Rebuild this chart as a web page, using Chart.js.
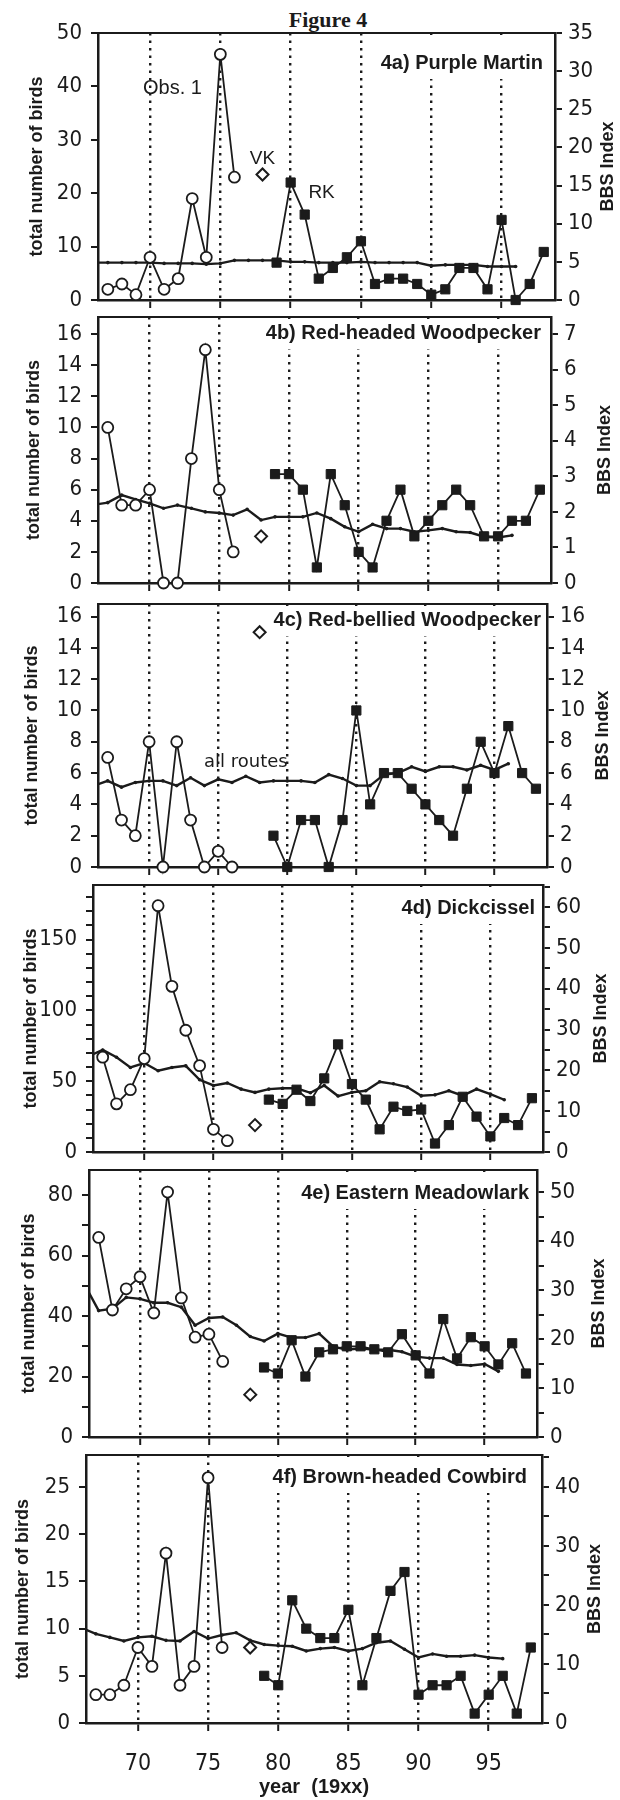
<!DOCTYPE html>
<html>
<head>
<meta charset="utf-8">
<script src="https://cdn.jsdelivr.net/npm/chart.js@4.4.1/dist/chart.umd.min.js"></script>
<style>
  html, body { margin: 0; padding: 0; background: #fff; }
  body { width: 620px; height: 1800px; position: relative; overflow: hidden; }
  #fig { position: absolute; left: 228px; top: 7px; width: 200px; text-align: center;
         font: bold 22px "Liberation Serif", "Times New Roman", serif; color: #1b1b1b; }
  .panel { position: absolute; left: 0; width: 620px; }
  .panel canvas { display: block; }
</style>
</head>
<body>
<div id="fig">Figure 4</div>
<script>
// ── Years ────────────────────────────────────────────────
const obsYears = [67, 68, 69, 70, 71, 72, 73, 74, 75, 76];
const rkYears  = [79, 80, 81, 82, 83, 84, 85, 86, 87, 88, 89, 90, 91, 92, 93, 94, 95, 96, 97, 98];
const bbsYears = [66, 67, 68, 69, 70, 71, 72, 73, 74, 75, 76, 77, 78, 79, 80, 81,
                  82, 83, 84, 85, 86, 87, 88, 89, 90, 91, 92, 93, 94, 95, 96];
const vkYear = [78];

// ── 4a Purple Martin ─────────────────────────────────────
const martinObs = [2, 3, 1, 8, 2, 4, 19, 8, 46, 23];
const martinVK  = [23.5];
const martinRK  = [7, 22, 16, 4, 6, 8, 11, 3, 4, 4, 3, 1, 2, 6, 6, 2, 15, 0, 3, 9];
const martinBBS = [4.9, 4.9, 4.9, 4.9, 4.9, 4.8, 4.8, 4.8, 4.7, 4.8, 5.2, 5.2, 5.2, 5.2, 5.0, 5.0,
                   4.9, 4.9, 4.9, 5.0, 4.9, 4.9, 4.9, 4.9, 4.5, 4.6, 4.6, 4.6, 4.4, 4.4, 4.4];

// ── 4b Red-headed Woodpecker ─────────────────────────────
const rhwoObs = [10, 5, 5, 6, 0, 0, 8, 15, 6, 2];
const rhwoVK  = [3];
const rhwoRK  = [7, 7, 6, 1, 7, 5, 2, 1, 4, 6, 3, 4, 5, 6, 5, 3, 3, 4, 4, 6];
const rhwoBBS = [2.2, 2.26, 2.47, 2.35, 2.24, 2.10, 2.19, 2.10, 2.00, 1.97, 1.91, 2.07, 1.77, 1.86, 1.86, 1.86,
                 1.97, 1.81, 1.58, 1.44, 1.65, 1.53, 1.53, 1.44, 1.48, 1.53, 1.44, 1.42, 1.30, 1.28, 1.34];

// ── 4c Red-bellied Woodpecker ────────────────────────────
const rbwoObs = [7, 3, 2, 8, 0, 8, 3, 0, 1, 0];
const rbwoVK  = [15];
const rbwoRK  = [2, 0, 3, 3, 0, 3, 10, 4, 6, 6, 5, 4, 3, 2, 5, 8, 6, 9, 6, 5];
const rbwoBBS = [5.2, 5.5, 5.1, 5.4, 5.5, 5.5, 5.2, 5.7, 5.2, 5.6, 5.4, 5.8, 5.4, 5.5, 5.5, 5.5,
                 5.4, 5.9, 5.65, 5.2, 5.2, 5.9, 6.0, 6.4, 6.1, 6.4, 6.4, 6.2, 6.5, 6.2, 6.6];

// ── 4d Dickcissel ────────────────────────────────────────
const dickObs = [67, 34, 44, 66, 174, 117, 86, 61, 16, 8];
const dickVK  = [19];
const dickRK  = [37, 34, 44, 36, 52, 76, 48, 37, 16, 32, 29, 30, 6, 19, 39, 25, 11, 24, 19, 38];
const dickBBS = [23.5, 25.0, 23.2, 20.7, 21.8, 19.9, 20.7, 21.1, 17.7, 16.3, 16.9, 15.4, 14.6, 15.4, 15.6, 15.6,
                 14.5, 16.3, 13.7, 14.6, 15.0, 17.2, 16.7, 15.9, 13.8, 14.0, 15.0, 13.8, 15.4, 14.2, 12.8];

// ── 4e Eastern Meadowlark ────────────────────────────────
const emeaObs = [66, 42, 49, 53, 41, 81, 46, 33, 34, 25];
const emeaVK  = [14];
const emeaRK  = [23, 21, 32, 20, 28, 29, 30, 30, 29, 28, 34, 27, 21, 39, 26, 33, 30, 24, 31, 21];
const emeaBBS = [31.0, 25.8, 26.2, 28.5, 28.2, 27.4, 27.4, 26.5, 22.8, 24.3, 24.5, 22.8, 20.5, 19.6, 21.1, 20.3,
                 20.3, 21.1, 18.5, 17.8, 18.1, 17.8, 17.8, 17.4, 16.4, 16.1, 16.1, 14.8, 14.6, 14.9, 13.4];

// ── 4f Brown-headed Cowbird ──────────────────────────────
const bhcoObs = [3, 3, 4, 8, 6, 18, 4, 6, 26, 8];
const bhcoVK  = [8];
const bhcoRK  = [5, 4, 13, 10, 9, 9, 12, 4, 9, 14, 16, 3, 4, 4, 5, 1, 3, 5, 1, 8];
const bhcoBBS = [16.1, 15.1, 14.5, 13.9, 14.5, 14.7, 14.0, 13.9, 15.5, 14.3, 14.9, 15.3, 14.0, 13.3, 13.1, 13.0,
                 12.2, 12.6, 12.8, 12.2, 12.6, 13.6, 13.9, 12.5, 11.1, 11.7, 11.3, 11.3, 11.5, 11.1, 10.9];

// ── Styling ──────────────────────────────────────────────
const ink = '#1b1b1b';
const NARROW = '"Liberation Sans Narrow", "Arial Narrow", "DejaVu Sans Condensed", "Liberation Sans", sans-serif';
const SANS = '"Liberation Sans", Arial, sans-serif';
const X_MIN = 66.3, X_MAX = 98.8;

const panels = [
  { label: '4a) Purple Martin', obs: martinObs, vk: martinVK, rk: martinRK, bbs: martinBBS,
    T: 33, B: 300, L: 98, R: 555, yMax: 50, yStep: 10, yLab: 10, y2Max: 35, y2Step: 5, y2Lab: 5,
    labelGap: 12, labelDy: 30, lt: 37, rt: 608,
    notes: [
      { text: 'Obs. 1', x: 71.6, y: 39.7, font: '20px ' + SANS },
      { text: 'VK', x: 78.0, y: 26.4, font: '19px ' + SANS },
      { text: 'RK', x: 82.2, y: 20.0, font: '19px ' + SANS },
    ] },
  { label: '4b) Red-headed Woodpecker', obs: rhwoObs, vk: rhwoVK, rk: rhwoRK, bbs: rhwoBBS,
    T: 317, B: 583, L: 98, R: 551, yMax: 17.1, yStep: 2, yLab: 2, y2Max: 7.48, y2Step: 1, y2Lab: 1,
    labelGap: 10, labelDy: 16, lt: 34, rt: 605, notes: [] },
  { label: '4c) Red-bellied Woodpecker', obs: rbwoObs, vk: rbwoVK, rk: rbwoRK, bbs: rbwoBBS,
    T: 604, B: 867, L: 98, R: 547, yMax: 16.8, yStep: 2, yLab: 2, y2Max: 16.8, y2Step: 2, y2Lab: 2,
    labelGap: 6, labelDy: 16, lt: 32, rt: 603,
    notes: [ { text: 'all routes', x: 77.0, y: 6.7, font: '18px "DejaVu Sans", sans-serif' } ] },
  { label: '4d) Dickcissel', obs: dickObs, vk: dickVK, rk: dickRK, bbs: dickBBS,
    T: 885, B: 1152, L: 93, R: 543, yMax: 188.6, yStep: 10, yLab: 50, y2Max: 65.4, y2Step: 5, y2Lab: 10,
    labelGap: 8, labelDy: 23, lt: 31, rt: 601, notes: [] },
  { label: '4e) Eastern Meadowlark', obs: emeaObs, vk: emeaVK, rk: emeaRK, bbs: emeaBBS,
    T: 1170, B: 1437, L: 89, R: 537, yMax: 88.3, yStep: 10, yLab: 20, y2Max: 54.5, y2Step: 5, y2Lab: 10,
    labelGap: 8, labelDy: 23, lt: 29, rt: 599, notes: [] },
  { label: '4f) Brown-headed Cowbird', obs: bhcoObs, vk: bhcoVK, rk: bhcoRK, bbs: bhcoBBS,
    T: 1455, B: 1723, L: 86, R: 542, yMax: 28.4, yStep: 5, yLab: 5, y2Max: 45.4, y2Step: 5, y2Lab: 10,
    labelGap: 15, labelDy: 22, lt: 23, rt: 595, notes: [] },
];

// frame top line, panel label, notes and rotated axis titles
const decoPlugin = {
  id: 'deco',
  beforeDatasetsDraw(chart, args, o) {
    const { ctx, chartArea: a } = chart;
    ctx.save();
    ctx.font = 'bold 20px ' + SANS;
    ctx.textAlign = 'right';
    ctx.textBaseline = 'middle';
    const w = ctx.measureText(o.label).width;
    const x = a.right - o.labelGap, y = a.top + o.labelDy;
    ctx.fillStyle = '#fff';
    ctx.fillRect(x - w - 5, a.top + 2, w + 10, o.labelDy + 14);
    ctx.fillStyle = ink;
    ctx.fillText(o.label, x, y);
    ctx.restore();
  },
  afterDraw(chart, args, o) {
    const { ctx, chartArea: a, scales } = chart;
    ctx.save();
    ctx.strokeStyle = ink;
    ctx.lineWidth = 2;
    ctx.beginPath();
    ctx.moveTo(a.left, a.top);
    ctx.lineTo(a.right, a.top);
    ctx.stroke();

    ctx.fillStyle = ink;
    ctx.textAlign = 'center';
    ctx.textBaseline = 'middle';
    o.notes.forEach(n => {
      ctx.font = n.font;
      ctx.fillText(n.text, scales.x.getPixelForValue(n.x), scales.y.getPixelForValue(n.y));
    });

    const cy = (a.top + a.bottom) / 2;
    ctx.font = 'bold 18px ' + SANS;
    [[o.lt, 'total number of birds'], [o.rt, 'BBS Index']].forEach(([tx, t]) => {
      ctx.save();
      ctx.translate(tx, cy);
      ctx.rotate(-Math.PI / 2);
      ctx.fillText(t, 0, 0);
      ctx.restore();
    });
    ctx.restore();
  }
};

const pts = (xs, ys) => xs.map((x, i) => ({ x, y: ys[i] }));

function buildDatasets(p) {
  return [
    {
      label: 'Obs. 1', data: pts(obsYears, p.obs), yAxisID: 'y', order: 1, clip: false,
      borderColor: ink, borderWidth: 1.8, tension: 0,
      pointStyle: 'circle', pointRadius: 5.5, pointBackgroundColor: '#fff',
      pointBorderColor: ink, pointBorderWidth: 1.8,
    },
    {
      label: 'VK', data: pts(vkYear, p.vk), yAxisID: 'y', order: 1, clip: false, showLine: false,
      pointStyle: 'rectRot', pointRadius: 6, pointBackgroundColor: '#fff',
      pointBorderColor: ink, pointBorderWidth: 2,
    },
    {
      label: 'RK', data: pts(rkYears, p.rk), yAxisID: 'y', order: 1, clip: false,
      borderColor: ink, borderWidth: 1.8, tension: 0,
      pointStyle: 'rect', pointRadius: 6.5, pointBackgroundColor: ink,
      pointBorderColor: ink, pointBorderWidth: 1,
    },
    {
      // BBS survey starts in 1966; the line is cut at the left frame
      label: 'BBS Index', data: pts(bbsYears, p.bbs), yAxisID: 'y2', order: 2,
      borderColor: ink, borderWidth: 2.4, tension: 0,
      pointStyle: 'circle', pointRadius: 1.8, pointBackgroundColor: ink, pointBorderWidth: 0,
    },
  ];
}

panels.forEach((p, i) => {
  const last = i === panels.length - 1;
  const padTop = 26, padBot = last ? 77 : 26;
  const h = p.B - p.T + padTop + padBot;

  const wrap = document.createElement('div');
  wrap.className = 'panel';
  wrap.style.top = (p.T - padTop) + 'px';
  wrap.style.height = h + 'px';
  const cv = document.createElement('canvas');
  cv.width = 620; cv.height = h;
  cv.style.width = '620px'; cv.style.height = h + 'px';
  wrap.appendChild(cv);
  document.body.appendChild(wrap);

  new Chart(cv, {
    type: 'line',
    data: { datasets: buildDatasets(p) },
    plugins: [decoPlugin],
    options: {
      responsive: false,
      animation: false,
      layout: { padding: { top: padTop, left: 0, right: 0, bottom: 0 } },
      plugins: {
        legend: { display: false },
        tooltip: { enabled: false },
        deco: p,
      },
      scales: {
        x: {
          type: 'linear', min: X_MIN, max: X_MAX,
          afterFit: s => { s.height = padBot; },
          ticks: { stepSize: 5, includeBounds: false, display: last, padding: 19, autoSkip: false,
                   maxRotation: 0, color: ink, font: { family: NARROW, size: 23 } },
          grid: { color: ink, lineWidth: 2.4, drawTicks: true, tickLength: 8, tickWidth: 2 },
          border: { display: true, color: ink, width: 2.5, dash: [2.5, 5] },
          title: { display: last, text: 'year  (19xx)', color: ink,
                   font: { family: SANS, size: 20, weight: 'bold' }, padding: { top: 0, bottom: 1 } },
        },
        y: {
          position: 'left', min: 0, max: p.yMax,
          afterFit: s => { s.width = p.L; },
          ticks: { stepSize: p.yStep, includeBounds: false, padding: 9, autoSkip: false, color: ink,
                   font: { family: NARROW, size: 22 },
                   callback: v => (v % p.yLab === 0 ? v : '') },
          grid: { drawOnChartArea: false, drawTicks: true, tickLength: 7, color: ink, lineWidth: 2 },
          border: { display: true, color: ink, width: 2.5 },
        },
        y2: {
          position: 'right', min: 0, max: p.y2Max,
          afterFit: s => { s.width = 620 - p.R; },
          ticks: { stepSize: p.y2Step, includeBounds: false, padding: 6, autoSkip: false, color: ink,
                   font: { family: NARROW, size: 22 },
                   callback: v => (v % p.y2Lab === 0 ? v : '') },
          grid: { drawOnChartArea: false, drawTicks: true, tickLength: 7, color: ink, lineWidth: 2 },
          border: { display: true, color: ink, width: 2.5 },
        },
      },
    },
  });
});
</script>
</body>
</html>
